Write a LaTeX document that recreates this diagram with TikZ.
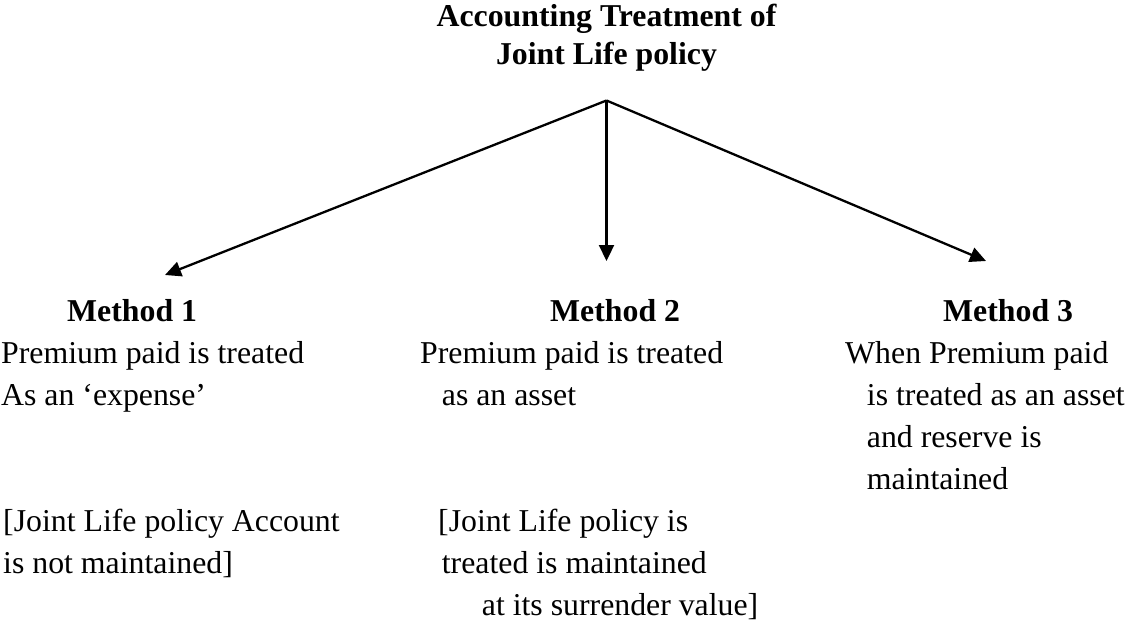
\documentclass[tikz,border=0pt]{standalone}
\usepackage{fontspec}
\setmainfont{Liberation Serif}
\usetikzlibrary{arrows.meta}
\begin{document}
\begin{tikzpicture}[x=1pt,y=-1pt,
  txt/.style={anchor=base west, inner sep=0pt, font=\fontsize{31.8}{42}\selectfont},
  ttl/.style={anchor=base, inner sep=0pt, font=\fontsize{31.8}{38}\selectfont\bfseries},
  mth/.style={anchor=base west, inner sep=0pt, font=\fontsize{31.8}{42}\selectfont\bfseries},
  arr/.style={line width=2.3pt, -{Triangle[length=16pt,width=15pt]}}]
\useasboundingbox (0,0) rectangle (1131,623);
% title
\node[ttl] (t1) at (606.5,27) {Accounting Treatment of};
\node[ttl] (t2) at (606.5,65) {Joint Life policy};
% connectors
\coordinate (apex) at (606.5,100.5);
\coordinate (e1) at (165,275);
\coordinate (e2) at (606.5,261);
\coordinate (e3) at (986,261);
\draw[arr] (apex) -- (e1);
\draw[arr] (apex) -- (e2);
\draw[arr] (apex) -- (e3);
% method headings
\node[mth] (m1) at (67,321.7) {Method 1};
\node[mth] (m2) at (550,321.7) {Method 2};
\node[mth] (m3) at (943,321.7) {Method 3};
% column 1
\node[txt] (a1) at (1,363.7) {Premium paid is treated};
\node[txt] (a2) at (1,405.7) {As an ‘expense’};
\node[txt] (a3) at (3,531.7) {[Joint Life policy Account};
\node[txt] (a4) at (3,573.7) {is not maintained]};
% column 2
\node[txt] (b1) at (420,363.7) {Premium paid is treated};
\node[txt] (b2) at (441.7,405.7) {as an asset};
\node[txt] (b3) at (438,531.7) {[Joint Life policy is};
\node[txt] (b4) at (441.7,573.7) {treated is maintained};
\node[txt] (b5) at (481.7,615.7) {at its surrender value]};
% column 3
\node[txt] (c1) at (845,363.7) {When Premium paid};
\node[txt] (c2) at (866.7,405.7) {is treated as an asset};
\node[txt] (c3) at (866.7,447.7) {and reserve is};
\node[txt] (c4) at (866.7,489.7) {maintained};
\end{tikzpicture}
\end{document}
